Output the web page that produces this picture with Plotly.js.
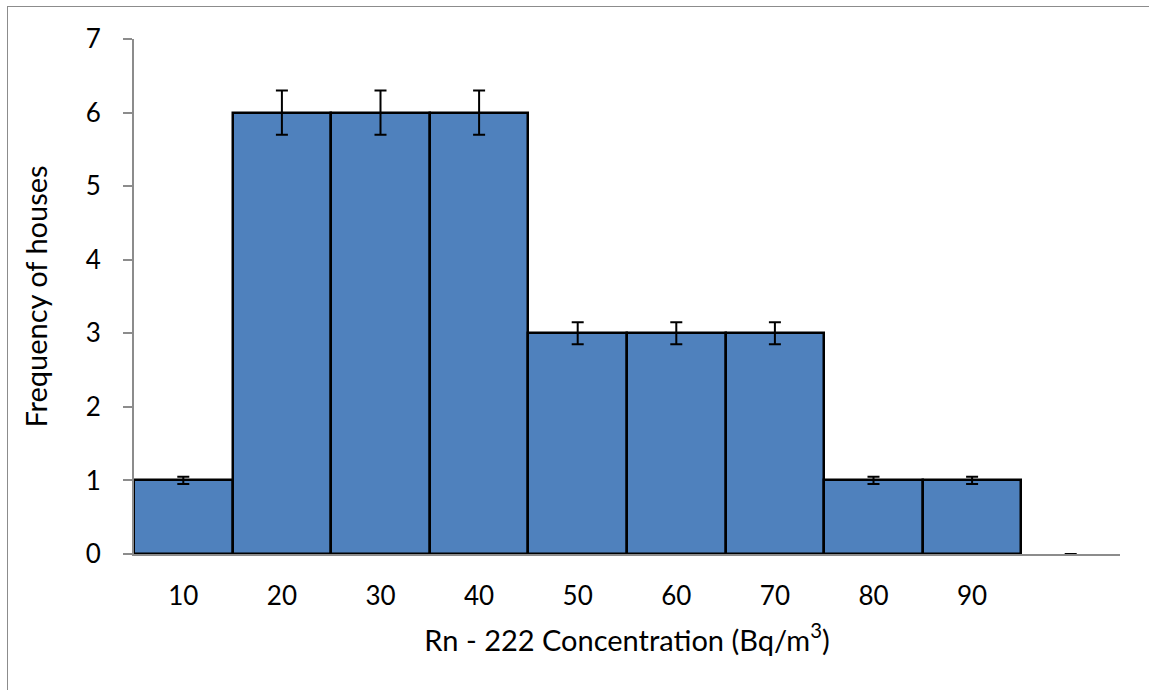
<!DOCTYPE html>
<html>
<head>
<meta charset="utf-8">
<script src="https://cdn.plot.ly/plotly-3.0.1.min.js"></script>
<style>
  html, body { margin: 0; padding: 0; background: #fff; }
  #frame { position: absolute; left: 7px; top: 6px; width: 1142px; height: 684px;
           border-left: 1px solid #8c8c8c; border-top: 1px solid #8c8c8c; box-sizing: border-box; }
  #chart { position: absolute; left: 0; top: 0; width: 1149px; height: 690px; }
</style>
</head>
<body>
<div id="frame"></div>
<div id="chart"></div>
<script>
const categories = ['10', '20', '30', '40', '50', '60', '70', '80', '90', ' '];
const frequency = [1, 6, 6, 6, 3, 3, 3, 1, 1, 0];
const errors = [0.05, 0.3, 0.3, 0.3, 0.15, 0.15, 0.15, 0.05, 0.05, 0];
const outlineWidths = [2.5, 2.5, 2.5, 2.5, 2.5, 2.5, 2.5, 2.5, 2.5, 0];
const yTicks = [0, 1, 2, 3, 4, 5, 6, 7];

const font = 'Lato, "Open Sans", "Liberation Sans", sans-serif';

const trace = {
  type: 'bar',
  x: categories,
  y: frequency,
  marker: { color: '#4F81BD', line: { color: '#000000', width: outlineWidths } },
  error_y: { type: 'data', array: errors, visible: true, color: '#000000', thickness: 2, width: 6 },
  hoverinfo: 'x+y'
};

const layout = {
  width: 1149, height: 690,
  margin: { l: 134, r: 29, t: 39, b: 136 },
  paper_bgcolor: 'rgba(0,0,0,0)',
  plot_bgcolor: 'rgba(0,0,0,0)',
  bargap: 0,
  showlegend: false,
  font: { family: font, size: 26, color: '#000' },
  xaxis: {
    type: 'category',
    showline: true, linecolor: '#8c8c8c', linewidth: 2,
    ticks: '', showgrid: false, zeroline: false,
    ticklabelstandoff: 18,
    tickfont: { family: font, size: 26, color: '#000' },
    title: { text: 'Rn - 222 Concentration (Bq/m<sup>3</sup>)', font: { family: font, size: 29, color: '#000' }, standoff: 20 },
    automargin: false
  },
  yaxis: {
    range: [0, 7],
    tickvals: yTicks,
    showline: true, linecolor: '#8c8c8c', linewidth: 2,
    ticks: 'outside', ticklen: 9, tickwidth: 2, tickcolor: '#8c8c8c',
    ticklabelstandoff: 17,
    showgrid: false, zeroline: false,
    tickfont: { family: font, size: 26, color: '#000' },
    title: { text: 'Frequency of houses', font: { family: font, size: 29, color: '#000' }, standoff: 30 },
    automargin: false
  }
};

Plotly.newPlot('chart', [trace], layout, { displayModeBar: false });
</script>
</body>
</html>
